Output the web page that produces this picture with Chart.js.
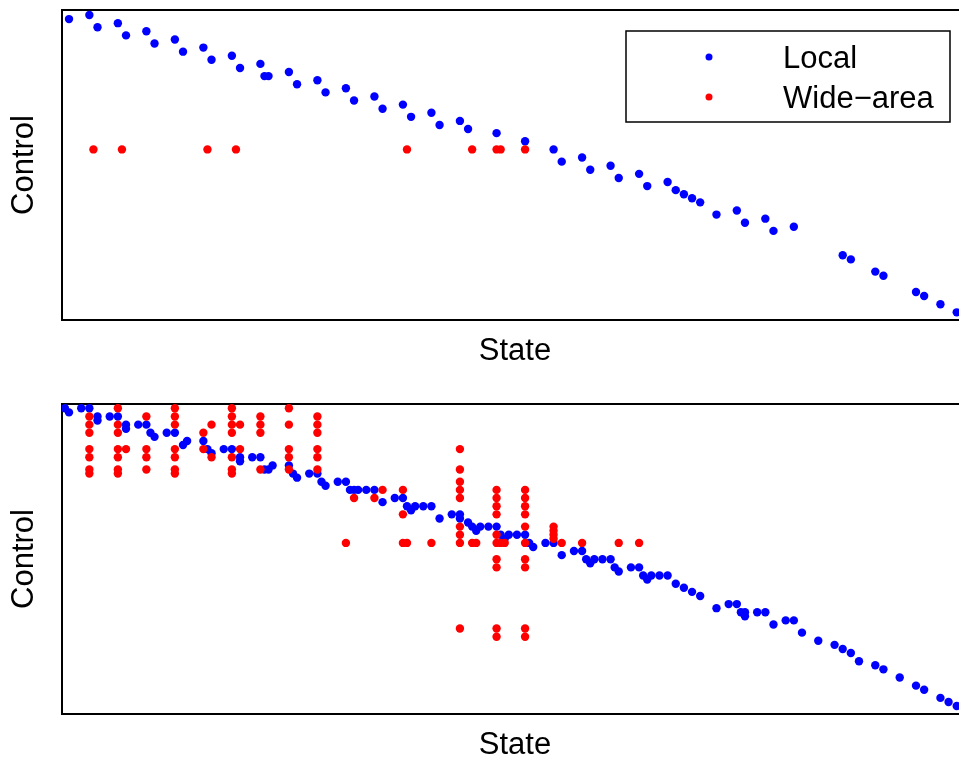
<!DOCTYPE html>
<html>
<head>
<meta charset="utf-8">
<script src="https://cdn.jsdelivr.net/npm/chart.js@4.4.0/dist/chart.umd.min.js"></script>
<style>
  html, body { margin: 0; padding: 0; background: #fff; overflow: hidden; width: 959px; height: 761px; }
  .panel { position: absolute; left: 0; width: 1000px; height: 390px; }
  #top { top: 0; }
  #bottom { top: 394px; }
</style>
</head>
<body>
<div class="panel" id="top"><canvas id="chartTop"></canvas></div>
<div class="panel" id="bottom"><canvas id="chartBottom"></canvas></div>
<script>
// ===== Data: [state, control] =====
const seriesNames = ["Local", "Wide\u2212area"];

// top panel
const localTop = [
  [0,72],[5,73],[7,70],[12,71],[14,68],[19,69],[21,66],[26,67],[28,64],[33,65],
  [35,62],[40,63],[42,60],[47,61],[48,58],[49,58],[54,59],[56,56],[61,57],[63,54],
  [68,55],[70,52],[75,53],[77,50],[82,51],[84,48],[89,49],[91,46],[96,47],[98,45],
  [105,44],[112,42],[119,40],[121,37],[126,38],[128,35],[133,36],[135,33],[140,34],[142,31],
  [147,32],[149,30],[151,29],[153,28],[155,27],[159,24],[164,25],[166,22],[171,23],[173,20],
  [178,21],[190,14],[192,13],[198,10],[200,9],[208,5],[210,4],[214,2],[218,0]
];
const wideTop = [
  [6,40],[13,40],[34,40],[41,40],[83,40],[99,40],[105,40],[106,40],[112,40]
];

// bottom panel
const localBottom = [
  [-1,73],[0,72],[3,73],[5,73],[7,71],[7,70],[10,71],[12,71],[14,69],[14,68],
  [17,69],[19,69],[20,67],[21,66],[24,67],[26,67],[28,64],[29,65],[33,65],[34,63],
  [35,62],[38,63],[40,63],[42,61],[42,60],[45,61],[47,61],[48,58],[49,58],[50,59],
  [54,59],[55,57],[56,56],[59,57],[61,57],[62,55],[63,54],[66,55],[68,55],[69,53],
  [70,53],[71,53],[73,53],[75,53],[77,50],[80,51],[82,51],[83,49],[84,48],[85,49],
  [87,49],[89,49],[91,46],[94,47],[96,47],[96,46],[98,45],[99,44],[100,43],[101,44],
  [103,44],[105,44],[106,42],[107,41],[108,42],[110,42],[112,42],[113,40],[114,39],[117,40],
  [119,40],[121,37],[124,38],[126,38],[127,36],[128,35],[129,36],[131,36],[133,36],[134,34],
  [135,33],[138,34],[140,34],[141,32],[142,31],[143,32],[145,32],[147,32],[149,30],[151,29],
  [153,28],[155,27],[159,24],[162,25],[164,25],[165,23],[166,23],[166,22],[169,23],[171,23],
  [173,20],[176,21],[178,21],[180,18],[184,16],[188,15],[190,14],[192,13],[194,11],[198,10],
  [200,9],[204,7],[208,5],[210,4],[214,2],[216,1],[218,0]
];
const wideBottom = [
  [5,71],[5,69],[5,67],[5,63],[5,61],[5,58],[5,57],
  [12,73],[12,69],[12,67],[12,63],[12,61],[12,58],[12,57],
  [14,63],
  [19,71],[19,63],[19,61],[19,58],
  [26,73],[26,71],[26,69],[26,63],[26,61],[26,58],[26,57],
  [33,67],[33,63],[35,69],[35,61],
  [40,73],[40,71],[40,69],[40,67],[40,61],[40,58],[40,57],
  [42,69],[42,63],
  [47,71],[47,69],[47,67],[47,58],
  [54,73],[54,69],[54,63],[54,61],[54,58],
  [61,71],[61,69],[61,67],[61,63],[61,61],[61,58],
  [68,40],[70,51],[75,51],[77,53],[82,53],[82,47],[82,40],[83,40],[89,40],
  [96,63],[96,58],[96,55],[96,53],[96,51],[96,44],[96,42],[96,40],[96,19],
  [99,40],[100,40],
  [105,53],[105,51],[105,49],[105,47],[105,42],[105,40],[105,36],[105,34],[105,19],[105,17],
  [106,40],[107,40],
  [112,53],[112,51],[112,49],[112,47],[112,44],[112,40],[112,36],[112,34],[112,19],[112,17],
  [119,44],[119,43],[119,42],[119,41],
  [121,40],[126,40],[135,40],[140,40]
];

const FONT = '"Liberation Sans", Arial, Helvetica, sans-serif';
const BLUE = "#0000ff";
const RED = "#ff0000";

// ===== Plugins =====
const axesBox = {
  id: "axesBox",
  beforeDatasetsDraw(chart) {
    const { ctx, chartArea: a } = chart;
    ctx.save();
    ctx.strokeStyle = "#000";
    ctx.lineWidth = 2;
    ctx.strokeRect(a.left, a.top, a.right - a.left, a.bottom - a.top);
    ctx.restore();
  }
};

const boxLegend = {
  id: "boxLegend",
  afterDraw(chart) {
    const { ctx } = chart;
    ctx.save();
    ctx.fillStyle = "#fff";
    ctx.fillRect(626, 31, 324, 91);
    ctx.strokeStyle = "#000";
    ctx.lineWidth = 1.5;
    ctx.strokeRect(626, 31, 324, 91);
    ctx.font = "31px " + FONT;
    ctx.textBaseline = "alphabetic";
    ctx.textAlign = "left";
    const rows = [57, 97];
    chart.data.datasets.forEach((ds, i) => {
      ctx.fillStyle = ds.backgroundColor;
      ctx.beginPath();
      ctx.arc(709, rows[i], 3.5, 0, Math.PI * 2);
      ctx.fill();
      ctx.fillStyle = "#000";
      ctx.fillText(ds.label, 783, rows[i] + 11);
    });
    ctx.restore();
  }
};

// ===== Chart builder =====
function makeChart(id, local, wide, yMin, yMax, withLegend) {
  const toPts = arr => arr.map(p => ({ x: p[0], y: p[1] }));
  return new Chart(document.getElementById(id), {
    type: "scatter",
    data: {
      datasets: [
        { label: seriesNames[0], data: toPts(local), backgroundColor: BLUE, borderWidth: 0, pointRadius: 4.2, order: 2 },
        { label: seriesNames[1], data: toPts(wide), backgroundColor: RED, borderWidth: 0, pointRadius: 4.2, order: 1 }
      ]
    },
    options: {
      responsive: true,
      maintainAspectRatio: false,
      animation: false,
      devicePixelRatio: 1,
      layout: { padding: { top: 10, right: 32, left: 0, bottom: 0 } },
      plugins: { legend: { display: false }, tooltip: { enabled: false } },
      scales: {
        x: {
          min: -1.72, max: 220.77,
          ticks: { display: false },
          grid: { display: false },
          border: { display: false },
          title: { display: true, text: "State", color: "#000", font: { size: 31, family: FONT }, padding: { top: 0, bottom: 20 } },
          afterFit: s => { s.height = 70; }
        },
        y: {
          min: yMin, max: yMax,
          ticks: { display: false },
          grid: { display: false },
          border: { display: false },
          title: { display: true, text: "Control", color: "#000", font: { size: 31, family: FONT }, padding: { top: 6, bottom: 0 } },
          afterFit: s => { s.width = 62; }
        }
      }
    },
    plugins: withLegend ? [axesBox, boxLegend] : [axesBox]
  });
}

makeChart("chartTop", localTop, wideTop, -1.88, 74.23, true);
makeChart("chartBottom", localBottom, wideBottom, -1.95, 74.06, false);
</script>
</body>
</html>
